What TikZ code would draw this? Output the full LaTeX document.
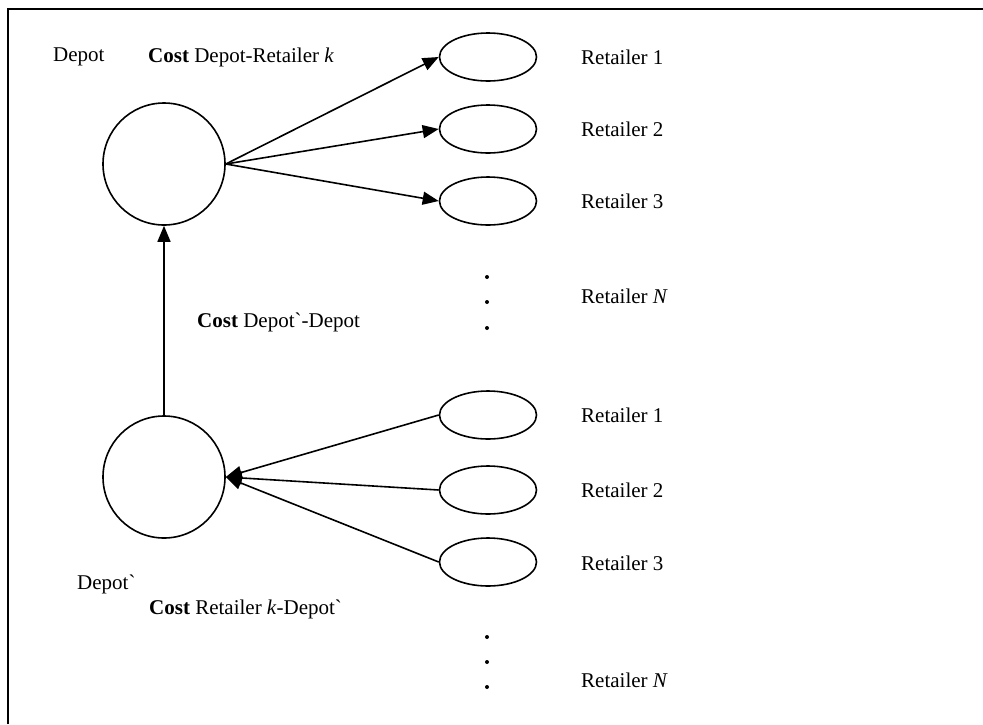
\documentclass[tikz,border=0pt]{standalone}
\usepackage{fontspec}
\setmainfont{Liberation Serif}[Ligatures=TeXOff]
\usetikzlibrary{arrows.meta,shapes.geometric}
\begin{document}
\begin{tikzpicture}[x=1pt,y=-1pt,
  every node/.style={font=\fontsize{21}{25}\selectfont, inner sep=0pt},
  depotnode/.style={circle, draw, line width=1.6pt, minimum size=122pt},
  retnode/.style={ellipse, draw, line width=1.6pt, minimum width=97pt, minimum height=48pt},
  lbl/.style={anchor=west},
  arr/.style={line width=1.6pt, -{Triangle[length=16pt,width=13pt]}},
  dotmark/.style={circle, fill, minimum size=4pt}
]
\useasboundingbox (0,0) rectangle (983,724);
% frame (top and left)
\draw[line width=2pt] (8,724) -- (8,9) -- (983,9);

% depots
\node[depotnode] (D) at (164,164) {};
\node[depotnode] (Dp) at (164,477) {};

% upper retailers
\node[retnode] (r1) at (488,57) {};
\node[retnode] (r2) at (488,129) {};
\node[retnode] (r3) at (488,201) {};
% lower retailers
\node[retnode] (s1) at (488,415) {};
\node[retnode] (s2) at (488,490) {};
\node[retnode] (s3) at (488,562) {};

% labels
\node[lbl] (lD) at (53,57) {Depot};
\node[lbl] (lc1) at (148,57) {\textbf{Cost} Depot-Retailer \textit{k}};
\node[lbl] (lr1) at (581,57) {Retailer 1};
\node[lbl] (lr2) at (581,129) {Retailer 2};
\node[lbl] (lr3) at (581,201) {Retailer 3};
\node[lbl] (lrN) at (581,296) {Retailer \textit{N}};
\node[lbl] (lc2) at (197,322) {\textbf{Cost} Depot`-Depot};
\node[lbl] (ls1) at (581,415) {Retailer 1};
\node[lbl] (ls2) at (581,490) {Retailer 2};
\node[lbl] (ls3) at (581,563) {Retailer 3};
\node[lbl] (lDp) at (77,584) {Depot`};
\node[lbl] (lc3) at (149,609) {\textbf{Cost} Retailer \textit{k}-Depot`};
\node[lbl] (lsN) at (581,680) {Retailer \textit{N}};

% dots
\node[dotmark] (d1) at (487,277) {};
\node[dotmark] (d2) at (487,302) {};
\node[dotmark] (d3) at (487,328) {};
\node[dotmark] (e1) at (487,637) {};
\node[dotmark] (e2) at (487,662) {};
\node[dotmark] (e3) at (487,687) {};

% connectors
\draw[arr] (D.east) -- (r1.west);
\draw[arr] (D.east) -- (r2.west);
\draw[arr] (D.east) -- (r3.west);
\draw[arr] (Dp.north) -- (D.south);
\draw[arr] (s1.west) -- (Dp.east);
\draw[arr] (s2.west) -- (Dp.east);
\draw[arr] (s3.west) -- (Dp.east);
\end{tikzpicture}
\end{document}
